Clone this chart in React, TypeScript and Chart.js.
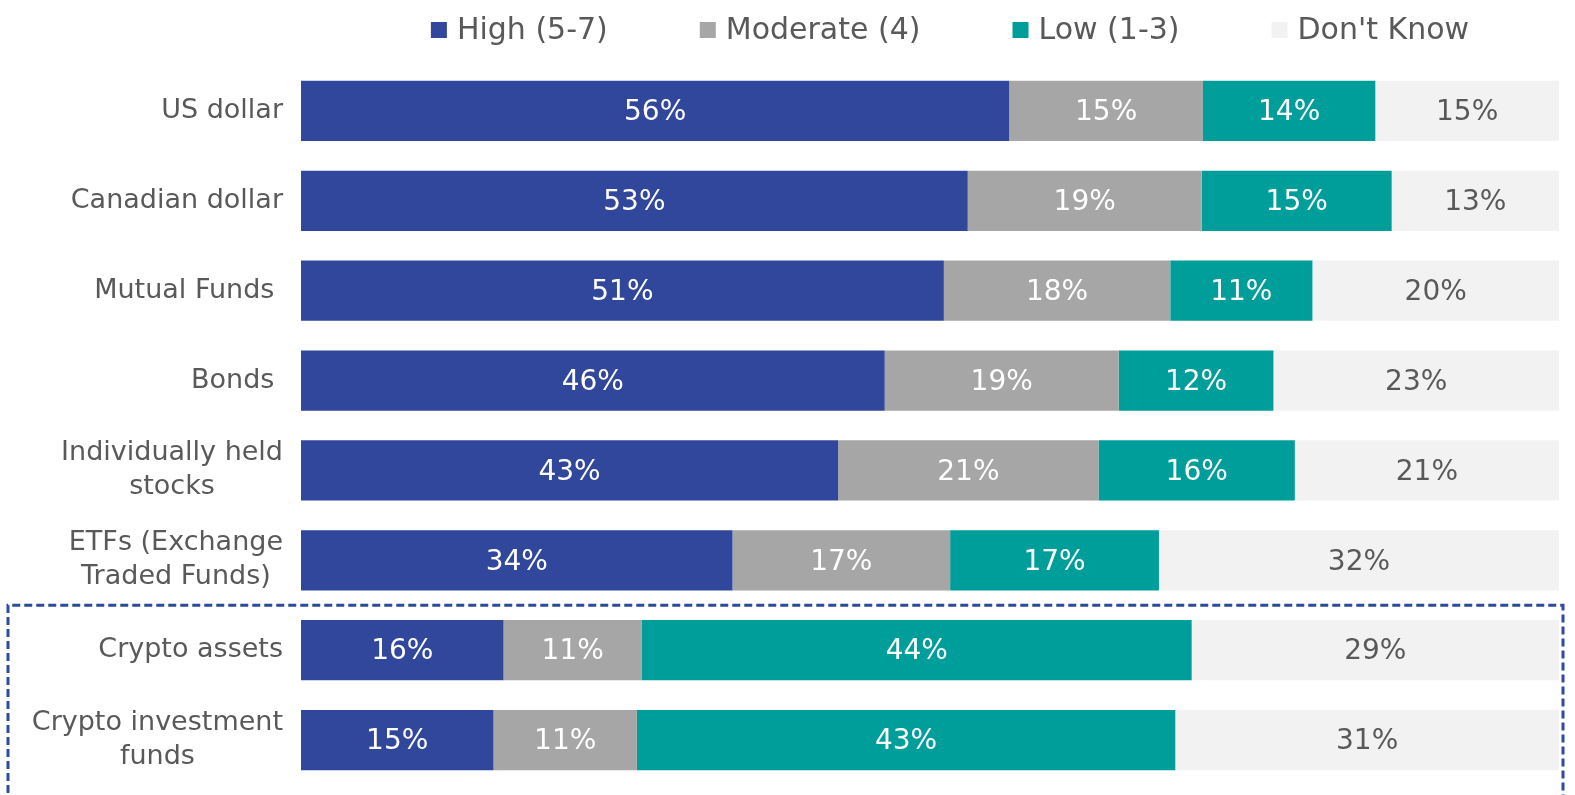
import React, { useEffect, useRef } from 'react';
import { Chart, registerables } from 'chart.js';

Chart.register(...registerables);

const categories: (string | string[])[] = [
  'US dollar',
  'Canadian dollar',
  'Mutual Funds ',
  'Bonds ',
  ['Individually held', 'stocks'],
  ['ETFs (Exchange', 'Traded Funds)'],
  'Crypto assets',
  ['Crypto investment', 'funds'],
];

const seriesNames = ['High (5-7)', 'Moderate (4)', 'Low (1-3)', "Don't Know"];
const highValues = [56.3, 53.0, 51.1, 46.4, 42.7, 34.3, 16.1, 15.3];
const moderateValues = [15.4, 18.6, 18.0, 18.6, 20.7, 17.3, 11.0, 11.4];
const lowValues = [13.7, 15.1, 11.3, 12.3, 15.6, 16.6, 43.7, 42.8];
const dontKnowValues = [14.6, 13.3, 19.6, 22.7, 21.0, 31.8, 29.2, 30.5];
const highlightedFrom = 6; // first crypto category inside the dashed box

const COLORS = ['#30479C', '#A6A6A6', '#009E9A', '#F2F2F2'];
const LABEL_COLORS = ['#FFFFFF', '#FFFFFF', '#FFFFFF', '#595959'];
const TEXT = '#595959';
const FONT = '"DejaVu Sans", sans-serif';

const customDraw = {
  id: 'customDraw',
  afterDatasetsDraw(chart: any) {
    const ctx = chart.ctx;
    const area = chart.chartArea;
    const yScale = chart.scales.y;
    ctx.save();

    // value labels
    ctx.font = `28px ${FONT}`;
    ctx.textAlign = 'center';
    ctx.textBaseline = 'middle';
    chart.data.datasets.forEach((ds: any, di: number) => {
      const meta = chart.getDatasetMeta(di);
      meta.data.forEach((bar: any, i: number) => {
        const v = ds.data[i];
        const cx = (bar.x + bar.base) / 2;
        ctx.fillStyle = LABEL_COLORS[di];
        ctx.fillText(Math.round(v) + '%', cx, bar.y + 2);
      });
    });

    // category labels: right-aligned block, centered lines
    ctx.font = `27px ${FONT}`;
    ctx.fillStyle = TEXT;
    const lineH = 34;
    const rightEdge = area.left - 18;
    categories.forEach((c, i) => {
      const lines = Array.isArray(c) ? c : [c];
      const widths = lines.map((l) => ctx.measureText(l).width);
      const maxW = Math.max(...widths);
      const cx = rightEdge - maxW / 2;
      const cy = yScale.getPixelForValue(i);
      const startY = cy - ((lines.length - 1) * lineH) / 2;
      lines.forEach((l, k) => {
        ctx.textAlign = 'center';
        ctx.fillText(l, cx, startY + k * lineH);
      });
    });

    // legend
    ctx.font = `30px ${FONT}`;
    const box = 16;
    const boxGap = 10;
    const itemGap = 92;
    const widths = chart.data.datasets.map((ds: any) => box + boxGap + ctx.measureText(ds.label).width);
    const total = widths.reduce((a: number, b: number) => a + b, 0) + itemGap * (widths.length - 1);
    const center = (area.left + area.right) / 2 + 20;
    let x = center - total / 2;
    const ly = 30;
    chart.data.datasets.forEach((ds: any, di: number) => {
      ctx.fillStyle = ds.backgroundColor;
      ctx.fillRect(x, ly - box / 2, box, box);
      ctx.fillStyle = TEXT;
      ctx.textAlign = 'left';
      ctx.fillText(ds.label, x + box + boxGap, ly + 1);
      x += widths[di] + itemGap;
    });

    // dashed highlight box around crypto rows
    const top = (yScale.getPixelForValue(highlightedFrom - 1) + yScale.getPixelForValue(highlightedFrom)) / 2;
    ctx.strokeStyle = '#2E4A9E';
    ctx.lineWidth = 3;
    ctx.setLineDash([8, 4]);
    ctx.beginPath();
    ctx.moveTo(8, chart.height + 10);
    ctx.lineTo(8, top);
    ctx.lineTo(chart.width - 12, top);
    ctx.lineTo(chart.width - 12, chart.height + 10);
    ctx.stroke();
    ctx.restore();
  },
};

export default function App() {
  const ref = useRef<HTMLCanvasElement>(null);
  useEffect(() => {
    if (!ref.current) return;
    const valueSets = [highValues, moderateValues, lowValues, dontKnowValues];
    const chart = new Chart(ref.current, {
      type: 'bar',
      data: {
        labels: categories.map((c) => (Array.isArray(c) ? c.join(' ') : c)),
        datasets: valueSets.map((vals, i) => ({
          label: seriesNames[i],
          data: vals,
          backgroundColor: COLORS[i],
          borderWidth: 0,
          barPercentage: 0.67,
          categoryPercentage: 1,
        })),
      },
      options: {
        indexAxis: 'y',
        responsive: false,
        animation: false,
        layout: { padding: { top: 66, bottom: 10, right: 16, left: 0 } },
        plugins: {
          legend: { display: false },
          tooltip: { enabled: false },
        },
        scales: {
          x: {
            stacked: true,
            min: 0,
            max: 100,
            display: false,
          },
          y: {
            stacked: true,
            grid: { display: false },
            border: { display: false },
            ticks: { display: false },
            afterFit(scale: any) {
              scale.width = 301;
              scale.paddingTop = 0;
              scale.paddingBottom = 0;
            },
          },
        },
      },
      plugins: [customDraw],
    });
    return () => chart.destroy();
  }, []);
  return (
    <div style={{ position: 'absolute', left: 0, top: 0, width: 1575, height: 795, background: '#fff' }}>
      <canvas ref={ref} width={1575} height={795} />
    </div>
  );
}
